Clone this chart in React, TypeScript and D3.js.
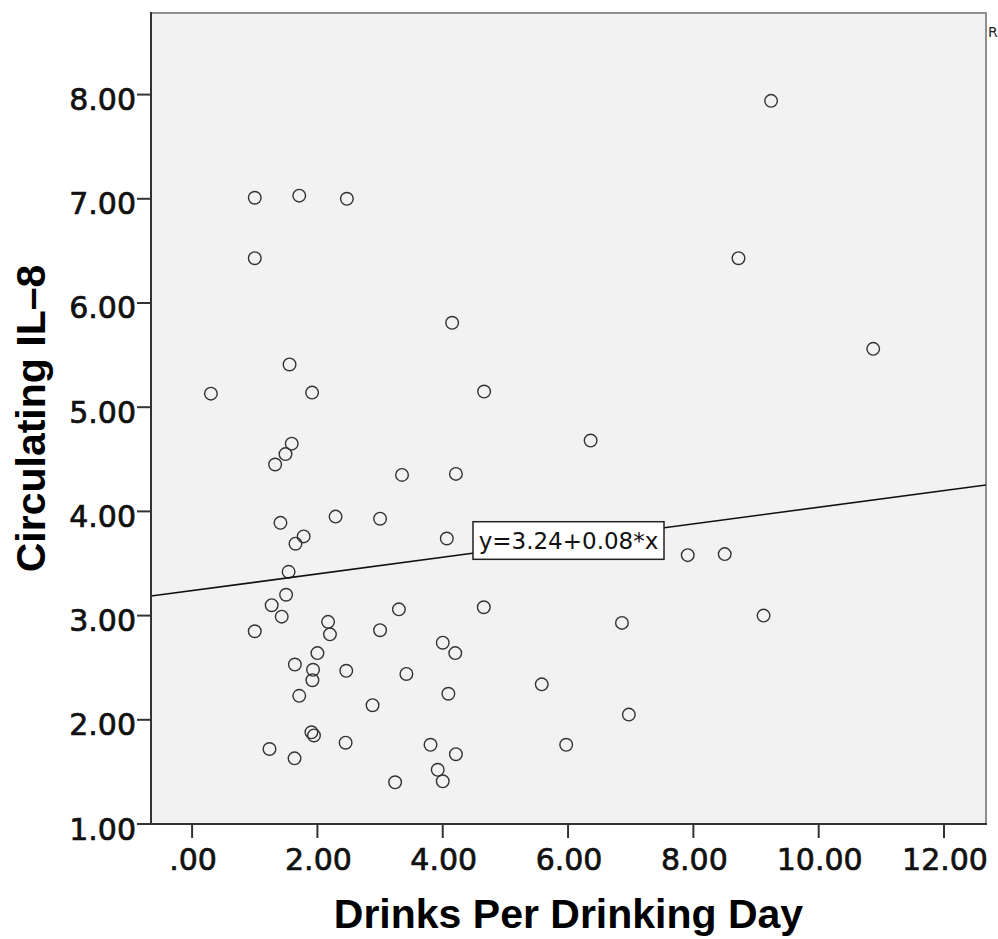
import React from "react";
import * as d3 from "d3";

// ---- Data ----
const drinksPerDay: number[] = [
  9.24, 1.0, 1.71, 2.47, 1.0, 8.72, 4.15, 10.87, 0.3, 1.555, 1.915, 4.66, 6.36, 1.59, 1.49, 1.325,
  3.35, 4.21, 1.41, 2.29, 3.0, 1.78, 1.65, 4.065, 1.54, 7.91, 8.5, 1.5, 1.27, 1.43, 1.0, 2.17,
  2.2, 3.3, 4.655, 3.0, 6.86, 9.12, 4.0, 4.2, 2.0, 1.64, 1.93, 1.92, 2.46, 3.42, 5.58, 1.71,
  4.09, 2.88, 6.97, 1.905, 1.945, 2.45, 1.235, 1.635, 3.805, 4.21, 5.97, 3.92, 4.0, 3.24,
];
const il8: number[] = [
  7.94, 7.01, 7.03, 7.0, 6.43, 6.43, 5.81, 5.56, 5.13, 5.41, 5.14, 5.15, 4.68, 4.65, 4.55, 4.45,
  4.35, 4.36, 3.89, 3.95, 3.93, 3.76, 3.69, 3.74, 3.42, 3.58, 3.59, 3.2, 3.1, 2.99, 2.85, 2.94,
  2.82, 3.06, 3.08, 2.86, 2.93, 3.0, 2.74, 2.64, 2.64, 2.53, 2.48, 2.38, 2.47, 2.44, 2.34, 2.23,
  2.25, 2.14, 2.05, 1.88, 1.85, 1.78, 1.72, 1.63, 1.76, 1.67, 1.76, 1.52, 1.41, 1.4,
];
const xTickValues: number[] = [0, 2, 4, 6, 8, 10, 12];
const xTickLabels: string[] = [".00", "2.00", "4.00", "6.00", "8.00", "10.00", "12.00"];
const yTickValues: number[] = [1, 2, 3, 4, 5, 6, 7, 8];
const yTickLabels: string[] = ["1.00", "2.00", "3.00", "4.00", "5.00", "6.00", "7.00", "8.00"];
const fitIntercept = 3.24;
const fitSlope = 0.08;
const fitLabel = "y=3.24+0.08*x";
const xTitle = "Drinks Per Drinking Day";
const yTitle = "Circulating IL\u20138";
const cornerText = "R";

const W = 998;
const H = 939;
const plot = { left: 151, right: 986, top: 13, bottom: 824 };

export default function App() {
  const x = d3.scaleLinear().domain([-0.656, 12.67]).range([plot.left, plot.right]);
  const y = d3.scaleLinear().domain([1, 8.783]).range([plot.bottom, plot.top]);

  const points = drinksPerDay.map((d, i) => ({ x: d, y: il8[i] }));
  const [x0, x1] = x.domain();
  const fit = (v: number) => fitIntercept + fitSlope * v;
  const line = d3.line<number>().x((v) => x(v)).y((v) => y(fit(v)));
  const midX = (x0 + x1) / 2;
  const boxW = 191;
  const boxH = 37.6;
  const boxCx = x(midX);
  const boxCy = y(fit(midX));

  const tickFont = "'DejaVu Sans', sans-serif";
  const titleFont = "'Liberation Sans', Arial, sans-serif";

  return (
    <svg
      width={W}
      height={H}
      viewBox={`0 0 ${W} ${H}`}
      style={{ position: "absolute", left: 0, top: 0, background: "#fff" }}
    >
      <defs>
        <clipPath id="plotclip">
          <rect x={plot.left} y={plot.top} width={plot.right - plot.left} height={plot.bottom - plot.top} />
        </clipPath>
      </defs>
      <rect
        x={plot.left}
        y={plot.top}
        width={plot.right - plot.left}
        height={plot.bottom - plot.top}
        fill="#f2f2f2"
        stroke="#8f8f8f"
        strokeWidth={2}
      />
      <g clipPath="url(#plotclip)">
        {points.map((p, i) => (
          <circle key={i} cx={x(p.x)} cy={y(p.y)} r={6.3} fill="none" stroke="#333" strokeWidth={1.4} />
        ))}
        <path d={line([x0, x1]) || ""} fill="none" stroke="#111" strokeWidth={1.6} />
      </g>
      <rect
        x={boxCx - boxW / 2}
        y={boxCy - boxH / 2}
        width={boxW}
        height={boxH}
        fill="#fff"
        stroke="#222"
        strokeWidth={1.5}
      />
      <text
        x={boxCx}
        y={boxCy + 8.5}
        textAnchor="middle"
        fontFamily={tickFont}
        fontSize={23}
        fill="#111"
      >
        {fitLabel}
      </text>
      {/* left & bottom axis lines */}
      <line x1={plot.left} x2={plot.left} y1={plot.top - 1} y2={plot.bottom} stroke="#333" strokeWidth={2} />
      <line x1={plot.left} x2={plot.right + 1} y1={plot.bottom} y2={plot.bottom} stroke="#333" strokeWidth={2} />
      {/* y ticks */}
      {yTickValues.map((v, i) => (
        <g key={"y" + i}>
          <line x1={plot.left - 14} x2={plot.left} y1={y(v)} y2={y(v)} stroke="#333" strokeWidth={2} />
          <text
            x={plot.left - 15}
            y={y(v) + 15.5}
            textAnchor="end"
            fontFamily={tickFont}
            fontSize={30}
            fill="#111"
            stroke="#111"
            strokeWidth={0.7}
          >
            {yTickLabels[i]}
          </text>
        </g>
      ))}
      {/* x ticks */}
      {xTickValues.map((v, i) => (
        <g key={"x" + i}>
          <line x1={x(v)} x2={x(v)} y1={plot.bottom} y2={plot.bottom + 14} stroke="#333" strokeWidth={2} />
          <text
            x={x(v) + 1}
            y={870}
            textAnchor="middle"
            fontFamily={tickFont}
            fontSize={30}
            fill="#111"
            stroke="#111"
            strokeWidth={0.7}
          >
            {xTickLabels[i]}
          </text>
        </g>
      ))}
      <text
        x={(plot.left + plot.right) / 2}
        y={928}
        textAnchor="middle"
        fontFamily={titleFont}
        fontWeight="bold"
        fontSize={41}
        fill="#000"
      >
        {xTitle}
      </text>
      <text
        transform={`translate(45, ${(plot.top + plot.bottom) / 2}) rotate(-90)`}
        textAnchor="middle"
        fontFamily={titleFont}
        fontWeight="bold"
        fontSize={41}
        fill="#000"
      >
        {yTitle}
      </text>
      <text x={988} y={37} fontFamily={tickFont} fontSize={14} fill="#222">
        {cornerText}
      </text>
    </svg>
  );
}
